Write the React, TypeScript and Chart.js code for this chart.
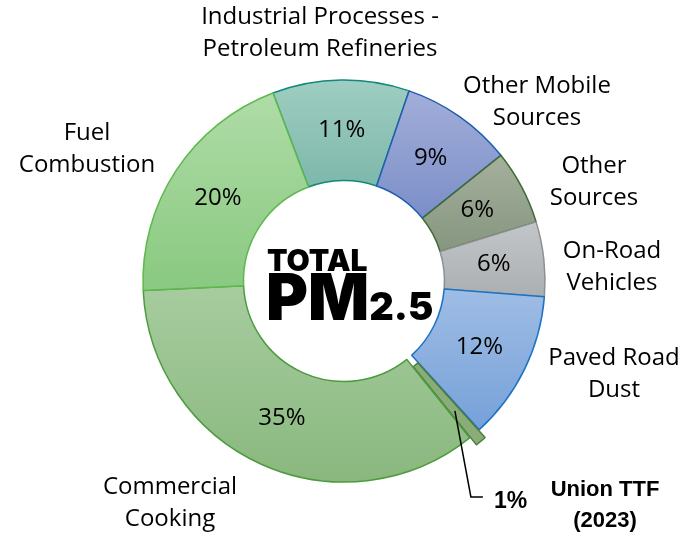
import React, { useEffect, useRef } from "react";
import { Chart, registerables } from "chart.js";

Chart.register(...registerables);

// ---- data ----
const categories = [
  "Industrial Processes - Petroleum Refineries",
  "Other Mobile Sources",
  "Other Sources",
  "On-Road Vehicles",
  "Paved Road Dust",
  "Union TTF (2023)",
  "Commercial Cooking",
  "Fuel Combustion",
];
const shares = [11, 9, 6, 6, 12, 1, 35, 20];
const labelLines = [
  ["Industrial Processes -", "Petroleum Refineries"],
  ["Other Mobile", "Sources"],
  ["Other", "Sources"],
  ["On-Road", "Vehicles"],
  ["Paved Road", "Dust"],
  [],
  ["Commercial", "Cooking"],
  ["Fuel", "Combustion"],
];
const highlightIndex = 5;
const highlightTitle = ["Union TTF", "(2023)"];
const centerTitle = ["TOTAL", "PM", "2.5"];

// ---- styles ----
const topColors = ["#9fcdc1", "#a3aed9", "#a5b09d", "#c3c6c8", "#9fbde5", "#8aad78", "#a7cc9f", "#afdca7"];
const bottomColors = ["#7db8ab", "#7b8ec8", "#86967f", "#abafb2", "#76a1d8", "#8aad78", "#89b87e", "#89c980"];
const borderColors = ["#12897a", "#1f5db3", "#3d6b35", "#8c8f93", "#1b73c4", "#4b7d3c", "#4c9c3e", "#5db84d"];
const offsets = [0, 0, 0, 0, 0, 20, 0, 0];
// label block centre offsets from chart centre (px)
const labelOffsets = [
  [-24, -248],
  [193, -179],
  [250, -99],
  [268, -14],
  [270, 93],
  [0, 0],
  [-174, 222],
  [-257, -132],
];
const FONT = "'Open Sans', 'Noto Sans', sans-serif";
const BOLD = "'Liberation Sans', Arial, sans-serif";

const gradientPlugin = {
  id: "sliceGradient",
  beforeDatasetsDraw(chart: any) {
    const ctx = chart.ctx;
    const meta = chart.getDatasetMeta(0);
    meta.data.forEach((arc: any, i: number) => {
      const { x, y, startAngle, endAngle, innerRadius, outerRadius } = arc.getProps(
        ["x", "y", "startAngle", "endAngle", "innerRadius", "outerRadius"],
        true
      );
      const mid = (startAngle + endAngle) / 2;
      const off = offsets[i];
      const cy = y + Math.sin(mid) * off;
      let yMin = Infinity;
      let yMax = -Infinity;
      const steps = 24;
      for (let s = 0; s <= steps; s++) {
        const a = startAngle + ((endAngle - startAngle) * s) / steps;
        for (const r of [innerRadius, outerRadius]) {
          const py = cy + Math.sin(a) * r;
          yMin = Math.min(yMin, py);
          yMax = Math.max(yMax, py);
        }
      }
      if (!isFinite(yMin) || yMax - yMin < 1) return;
      const g = ctx.createLinearGradient(0, yMin, 0, yMax);
      g.addColorStop(0, topColors[i]);
      g.addColorStop(1, bottomColors[i]);
      arc.options.backgroundColor = g;
    });
  },
};

const labelPlugin = {
  id: "sliceLabels",
  afterDatasetsDraw(chart: any) {
    const ctx = chart.ctx;
    const meta = chart.getDatasetMeta(0);
    const first = meta.data[0];
    const cx = first.x;
    const cy = first.y;
    ctx.save();
    ctx.textAlign = "center";
    ctx.textBaseline = "middle";
    ctx.fillStyle = "#000";

    meta.data.forEach((arc: any, i: number) => {
      if (i !== highlightIndex) {
        const p = arc.tooltipPosition(true);
        ctx.font = `24px ${FONT}`;
        ctx.fillText(`${shares[i]}%`, p.x, p.y);
        const lines = labelLines[i];
        const [dx, dy] = labelOffsets[i];
        const lh = 32;
        lines.forEach((t: string, k: number) => {
          ctx.fillText(t, cx + dx, cy + dy + (k - (lines.length - 1) / 2) * lh);
        });
      }
    });

    // highlighted slice leader + label
    const h = meta.data[highlightIndex];
    const props = h.getProps(["startAngle", "endAngle", "innerRadius", "outerRadius"], true);
    const mid = (props.startAngle + props.endAngle) / 2;
    const r = (props.innerRadius + props.outerRadius) / 2 + offsets[highlightIndex];
    const sx = cx + Math.cos(mid) * r;
    const sy = cy + Math.sin(mid) * r;
    const ey = cy + 216;
    const kx = sx + 16;
    ctx.strokeStyle = "#000";
    ctx.lineWidth = 1.5;
    ctx.beginPath();
    ctx.moveTo(sx, sy);
    ctx.lineTo(kx, ey);
    ctx.lineTo(kx + 12, ey);
    ctx.stroke();

    ctx.font = `bold 23px ${BOLD}`;
    ctx.textAlign = "left";
    ctx.fillText(`${shares[highlightIndex]}%`, kx + 23, ey + 5);
    ctx.textAlign = "center";
    ctx.font = `bold 22px ${BOLD}`;
    ctx.fillText(highlightTitle[0], cx + 261, cy + 209);
    ctx.fillText(highlightTitle[1], cx + 261, cy + 240);

    // centre title
    ctx.textAlign = "left";
    ctx.textBaseline = "alphabetic";
    ctx.font = `900 30px Inter, 'DejaVu Sans', sans-serif`;
    ctx.fillText(centerTitle[0], cx - 77, cy - 10);
    ctx.font = `900 64px Inter, 'DejaVu Sans', sans-serif`;
    ctx.fillText(centerTitle[1], cx - 78, cy + 39);
    const w = ctx.measureText(centerTitle[1]).width;
    ctx.font = `900 38px Inter, 'DejaVu Sans', sans-serif`;
    ctx.fillText(centerTitle[2], cx - 78 + w, cy + 39);
    ctx.restore();
  },
};

export default function App() {
  const ref = useRef<HTMLCanvasElement | null>(null);
  useEffect(() => {
    if (!ref.current) return;
    const chart = new Chart(ref.current, {
      type: "doughnut",
      data: {
        labels: categories,
        datasets: [
          {
            data: shares,
            backgroundColor: topColors,
            borderColor: borderColors,
            borderWidth: 1.5,
            offset: offsets,
            hoverOffset: 0,
          },
        ],
      },
      options: {
        responsive: false,
        animation: false,
        rotation: -20.7,
        cutout: "50%",
        radius: 201,
        layout: { padding: { left: 0, right: 10, top: 24, bottom: 0 } },
        plugins: {
          legend: { display: false },
          tooltip: { enabled: false },
        },
        events: [],
      },
      plugins: [gradientPlugin, labelPlugin],
    });
    return () => chart.destroy();
  }, []);
  return (
    <div style={{ position: "fixed", left: 0, top: 0, width: 698, height: 538, background: "#fff" }}>
      <canvas ref={ref} width={698} height={538} style={{ display: "block" }} />
    </div>
  );
}
